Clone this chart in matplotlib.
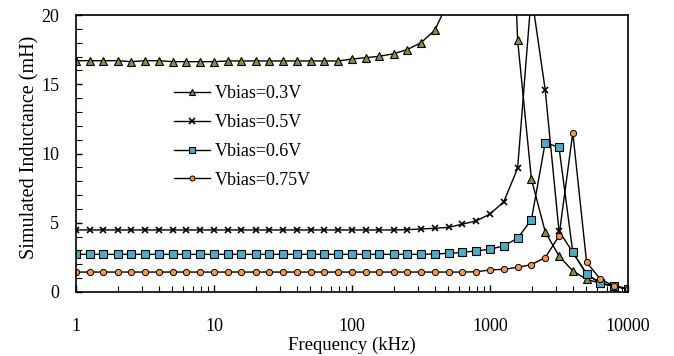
import matplotlib
matplotlib.use("Agg")
import matplotlib.pyplot as plt
from matplotlib.ticker import FixedLocator, NullFormatter

plt.rcParams['font.family'] = ['Liberation Serif', 'DejaVu Serif']

# Frequency sweep (kHz), 10 points per decade
freq = [1, 1.26, 1.58, 2.0, 2.51, 3.16, 3.98, 5.01, 6.31, 7.94,
        10, 12.6, 15.8, 20.0, 25.1, 31.6, 39.8, 50.1, 63.1, 79.4,
        100, 126, 158, 200, 251, 316, 398, 501, 631, 794,
        1000, 1259, 1585, 1995, 2512, 3162, 3981, 5012, 6310, 7943,
        10000]

L_03 = [16.70, 16.70, 16.70, 16.70, 16.63, 16.70, 16.70, 16.63, 16.63, 16.63,
        16.63, 16.68, 16.68, 16.68, 16.68, 16.68, 16.68, 16.68, 16.68, 16.68,
        16.82, 16.92, 17.02, 17.20, 17.50, 18.00, 18.90, 21.0, 24.0, 28.0,
        35.0, 45.0, 18.20, 8.16, 4.35, 2.60, 1.52, 0.92, 0.63, 0.40,
        0.22]
L_05 = [4.48, 4.48, 4.48, 4.48, 4.48, 4.48, 4.48, 4.48, 4.48, 4.48,
        4.48, 4.48, 4.48, 4.48, 4.48, 4.48, 4.48, 4.48, 4.48, 4.48,
        4.48, 4.48, 4.48, 4.48, 4.50, 4.55, 4.60, 4.67, 4.90, 5.13,
        5.63, 6.52, 8.93, 21.5, 14.6, 4.40, 2.87, 1.30, 0.63, 0.43,
        0.22]
L_06 = [2.72, 2.72, 2.72, 2.72, 2.72, 2.72, 2.72, 2.72, 2.72, 2.72,
        2.72, 2.72, 2.72, 2.72, 2.72, 2.72, 2.72, 2.72, 2.72, 2.72,
        2.72, 2.72, 2.72, 2.72, 2.72, 2.72, 2.75, 2.79, 2.86, 2.97,
        3.08, 3.34, 3.88, 5.22, 10.78, 10.45, 2.87, 1.29, 0.63, 0.43,
        0.22]
L_075 = [1.44, 1.44, 1.44, 1.44, 1.44, 1.44, 1.44, 1.44, 1.44, 1.44,
         1.44, 1.44, 1.44, 1.44, 1.44, 1.44, 1.44, 1.44, 1.44, 1.44,
         1.44, 1.44, 1.44, 1.44, 1.44, 1.44, 1.44, 1.44, 1.44, 1.46,
         1.59, 1.64, 1.78, 1.98, 2.48, 4.04, 11.5, 2.15, 0.92, 0.43,
         0.22]

labels = ['Vbias=0.3V', 'Vbias=0.5V', 'Vbias=0.6V', 'Vbias=0.75V']
xticks = [1, 10, 100, 1000, 10000]
xticklabels = ['1', '10', '100', '1000', '10000']
yticks = [0, 5, 10, 15, 20]

fig = plt.figure(figsize=(6.74, 3.56), dpi=100)
ax = fig.add_axes([76/674, 1 - 292/356, (628-76)/674, (292-15)/356])

ax.plot(freq, L_03, color='black', lw=1.0, marker='^', ms=5.5,
        mfc='#7a9a3a', mec='black', mew=0.8, label=labels[0])
ax.plot(freq, L_05, color='black', lw=1.0, marker='x', ms=5,
        mec='black', mew=1.2, label=labels[1])
ax.plot(freq, L_06, color='black', lw=1.0, marker='s', ms=6,
        mfc='#4bacc6', mec='black', mew=0.8, label=labels[2])
ax.plot(freq, L_075, color='black', lw=1.0, marker='o', ms=4.5,
        mfc='#f79646', mec='black', mew=0.7, label=labels[3])

ax.set_xscale('log')
ax.set_xlim(1, 10000)
ax.set_ylim(0, 20)
ax.set_xticks(xticks)
ax.set_xticklabels(xticklabels)
ax.xaxis.set_minor_formatter(NullFormatter())
ax.set_yticks(yticks)
ax.yaxis.set_minor_locator(FixedLocator([i for i in range(0, 21)]))

ax.tick_params(axis='x', which='major', direction='in', length=5, width=1,
               pad=19, labelsize=13)
ax.tick_params(axis='x', which='minor', direction='in', length=4, width=0.8)
ax.tick_params(axis='y', which='major', direction='in', length=4, width=1,
               pad=12, labelsize=13)
ax.tick_params(axis='y', which='minor', direction='in', length=4, width=0.8)

for s in ax.spines.values():
    s.set_linewidth(1.2)

ax.set_xlabel('Frequency (kHz)', fontsize=13.5, va='center')
ax.xaxis.set_label_coords(0.5, -(345 - 292) / 277)
ax.set_ylabel('Simulated Inductance (mH)', fontsize=14.5, va='center')
ax.yaxis.set_label_coords(-(76 - 30) / 552, (292 - 147) / 277)

leg = ax.legend(loc='upper left', bbox_to_anchor=(0.165, 0.772), frameon=False,
                fontsize=13, handlelength=2.0, handletextpad=0.25,
                labelspacing=0.65, markerscale=0.8, borderaxespad=0)

fig.savefig('out.png', dpi=100)
